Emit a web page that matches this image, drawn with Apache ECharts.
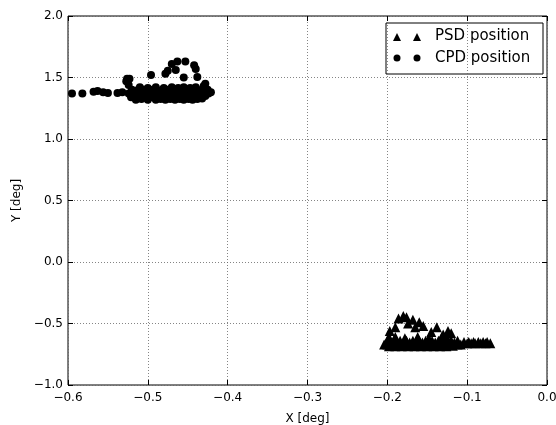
<!DOCTYPE html>
<html>
<head>
<meta charset="utf-8">
<title>PSD / CPD position</title>
<script src="https://cdn.jsdelivr.net/npm/echarts@6/dist/echarts.min.js"></script>
</head>
<body style="margin:0">
<div id="main" style="width:556px;height:425px;"></div>
<script type="text/javascript">
// tick values
var xTicks = [-0.6, -0.5, -0.4, -0.3, -0.2, -0.1, 0.0];
var yTicks = [-1.0, -0.5, 0.0, 0.5, 1.0, 1.5, 2.0];

// PSD position (triangles)
var psdPoints = [
    [-0.186, -0.46], [-0.18, -0.44], [-0.176, -0.45], [-0.168, -0.47], [-0.174, -0.50],
    [-0.16, -0.49], [-0.155, -0.52], [-0.138, -0.53], [-0.124, -0.56], [-0.12, -0.58],
    [-0.197, -0.56], [-0.19, -0.53], [-0.165, -0.53], [-0.145, -0.57], [-0.13, -0.59],
    [-0.198, -0.61], [-0.19, -0.61], [-0.178, -0.62], [-0.162, -0.61], [-0.148, -0.62], [-0.132, -0.61], [-0.125, -0.62],
    [-0.2, -0.64], [-0.192, -0.64], [-0.184, -0.64], [-0.176, -0.64], [-0.168, -0.64], [-0.16, -0.64],
    [-0.152, -0.64], [-0.144, -0.64], [-0.136, -0.64], [-0.128, -0.64], [-0.12, -0.64], [-0.112, -0.64],
    [-0.196, -0.655], [-0.188, -0.655], [-0.18, -0.655], [-0.172, -0.655], [-0.164, -0.655], [-0.156, -0.655],
    [-0.148, -0.655], [-0.14, -0.655], [-0.132, -0.655], [-0.124, -0.655], [-0.116, -0.655],
    [-0.204, -0.67], [-0.2, -0.67], [-0.192, -0.67], [-0.184, -0.67], [-0.176, -0.67], [-0.168, -0.67], [-0.16, -0.67],
    [-0.152, -0.67], [-0.144, -0.67], [-0.136, -0.67], [-0.128, -0.67], [-0.12, -0.67], [-0.112, -0.67], [-0.108, -0.67],
    [-0.198, -0.685], [-0.19, -0.685], [-0.182, -0.685], [-0.174, -0.685], [-0.166, -0.685], [-0.158, -0.685],
    [-0.15, -0.685], [-0.142, -0.685], [-0.134, -0.685], [-0.126, -0.685], [-0.118, -0.68],
    [-0.104, -0.65], [-0.098, -0.65], [-0.092, -0.65], [-0.086, -0.65], [-0.08, -0.65], [-0.075, -0.65], [-0.071, -0.66],
    [-0.1, -0.66], [-0.095, -0.66], [-0.09, -0.66], [-0.083, -0.66], [-0.077, -0.66]
];

// CPD position (circles)
var cpdPoints = [
    [-0.595, 1.37], [-0.582, 1.37], [-0.568, 1.385], [-0.563, 1.39], [-0.556, 1.38], [-0.55, 1.375],
    [-0.538, 1.375], [-0.532, 1.38], [-0.527, 1.47], [-0.526, 1.49], [-0.524, 1.44],
    [-0.52, 1.40], [-0.512, 1.40], [-0.505, 1.40], [-0.497, 1.40], [-0.49, 1.40], [-0.482, 1.40], [-0.475, 1.40],
    [-0.468, 1.40], [-0.46, 1.40], [-0.452, 1.40], [-0.445, 1.40], [-0.438, 1.40], [-0.43, 1.40], [-0.425, 1.40],
    [-0.516, 1.385], [-0.508, 1.385], [-0.5, 1.385], [-0.493, 1.385], [-0.486, 1.385], [-0.478, 1.385], [-0.471, 1.385],
    [-0.464, 1.385], [-0.456, 1.385], [-0.449, 1.385], [-0.441, 1.385], [-0.434, 1.385], [-0.427, 1.385],
    [-0.524, 1.37], [-0.516, 1.37], [-0.508, 1.37], [-0.5, 1.37], [-0.492, 1.37], [-0.485, 1.37], [-0.477, 1.37],
    [-0.47, 1.37], [-0.462, 1.37], [-0.455, 1.37], [-0.447, 1.37], [-0.44, 1.37], [-0.432, 1.37], [-0.424, 1.37], [-0.421, 1.38],
    [-0.518, 1.355], [-0.51, 1.355], [-0.502, 1.355], [-0.494, 1.355], [-0.486, 1.355], [-0.478, 1.355], [-0.47, 1.355],
    [-0.462, 1.355], [-0.454, 1.355], [-0.446, 1.355], [-0.438, 1.355], [-0.43, 1.355],
    [-0.521, 1.34], [-0.513, 1.34], [-0.505, 1.34], [-0.497, 1.34], [-0.489, 1.34], [-0.481, 1.34], [-0.473, 1.34],
    [-0.465, 1.34], [-0.457, 1.34], [-0.45, 1.34], [-0.443, 1.34], [-0.436, 1.34], [-0.428, 1.35],
    [-0.515, 1.32], [-0.508, 1.325], [-0.5, 1.32], [-0.49, 1.32], [-0.484, 1.325], [-0.478, 1.32], [-0.472, 1.325],
    [-0.466, 1.32], [-0.46, 1.325], [-0.455, 1.32], [-0.449, 1.325], [-0.444, 1.32], [-0.438, 1.325], [-0.432, 1.33],
    [-0.51, 1.42], [-0.5, 1.415], [-0.49, 1.42], [-0.48, 1.415], [-0.47, 1.42], [-0.462, 1.415], [-0.455, 1.42],
    [-0.447, 1.415], [-0.44, 1.42], [-0.43, 1.43], [-0.428, 1.45],
    [-0.463, 1.63], [-0.453, 1.63], [-0.47, 1.61], [-0.442, 1.60], [-0.44, 1.57], [-0.465, 1.56], [-0.475, 1.555],
    [-0.496, 1.52], [-0.478, 1.53], [-0.438, 1.505], [-0.455, 1.50], [-0.523, 1.49]
];

var myChart = echarts.init(document.getElementById('main'));

var font = 'DejaVu Sans';
var gridLine = { show: true, lineStyle: { color: '#666', type: [1, 2], width: 0.8 } };
var tick = { inside: true, length: 5, lineStyle: { color: '#000' } };
function fmt(v) { return v.toFixed(1).replace('-', '\u2212'); }

var option = {
    animation: false,
    backgroundColor: '#fff',
    grid: { left: 68, right: 9, top: 16, bottom: 40, outerBoundsMode: 'none',
        show: true, borderColor: '#000', borderWidth: 1 },
    xAxis: [{
        type: 'value', min: -0.6, max: 0.0, interval: 0.1,
        name: 'X [deg]', nameLocation: 'middle', nameGap: 28,
        nameTextStyle: { fontFamily: font, fontSize: 12, color: '#000' },
        axisLine: { show: false, onZero: false },
        axisTick: tick,
        axisLabel: { fontFamily: font, fontSize: 12, color: '#000', margin: 7, formatter: fmt },
        splitLine: gridLine
    }, {
        type: 'value', position: 'top', min: -0.6, max: 0.0, interval: 0.1,
        axisLine: { show: false, onZero: false },
        axisTick: tick,
        axisLabel: { show: false }, splitLine: { show: false }
    }],
    yAxis: [{
        type: 'value', min: -1.0, max: 2.0, interval: 0.5,
        name: 'Y [deg]', nameLocation: 'middle', nameGap: 38,
        nameTextStyle: { fontFamily: font, fontSize: 12, color: '#000' },
        axisLine: { show: false, onZero: false },
        axisTick: tick,
        axisLabel: { fontFamily: font, fontSize: 12, color: '#000', margin: 5, formatter: fmt },
        splitLine: gridLine
    }, {
        type: 'value', position: 'right', min: -1.0, max: 2.0, interval: 0.5,
        axisLine: { show: false, onZero: false },
        axisTick: tick,
        axisLabel: { show: false }, splitLine: { show: false }
    }],
    series: [{
        name: 'PSD position', type: 'scatter', data: psdPoints,
        symbol: 'triangle', symbolSize: 10,
        itemStyle: { color: '#000', opacity: 1 }
    }, {
        name: 'CPD position', type: 'scatter', data: cpdPoints,
        symbol: 'circle', symbolSize: 8,
        itemStyle: { color: '#000', opacity: 1 }
    }],
    graphic: [
        { type: 'rect', shape: { x: 386, y: 23, width: 157, height: 51 },
          style: { fill: '#fff', stroke: '#000', lineWidth: 1 } },
        { type: 'polygon', shape: { points: [[397, 33], [393, 41], [401, 41]] }, style: { fill: '#000' } },
        { type: 'polygon', shape: { points: [[417, 33], [413, 41], [421, 41]] }, style: { fill: '#000' } },
        { type: 'text', left: 435, top: 29, style: { text: 'PSD position', font: '15px "DejaVu Sans"', fill: '#000' } },
        { type: 'circle', shape: { cx: 397, cy: 58, r: 3.5 }, style: { fill: '#000' } },
        { type: 'circle', shape: { cx: 417, cy: 58, r: 3.5 }, style: { fill: '#000' } },
        { type: 'text', left: 435, top: 51, style: { text: 'CPD position', font: '15px "DejaVu Sans"', fill: '#000' } }
    ]
};

myChart.setOption(option);
</script>
</body>
</html>
